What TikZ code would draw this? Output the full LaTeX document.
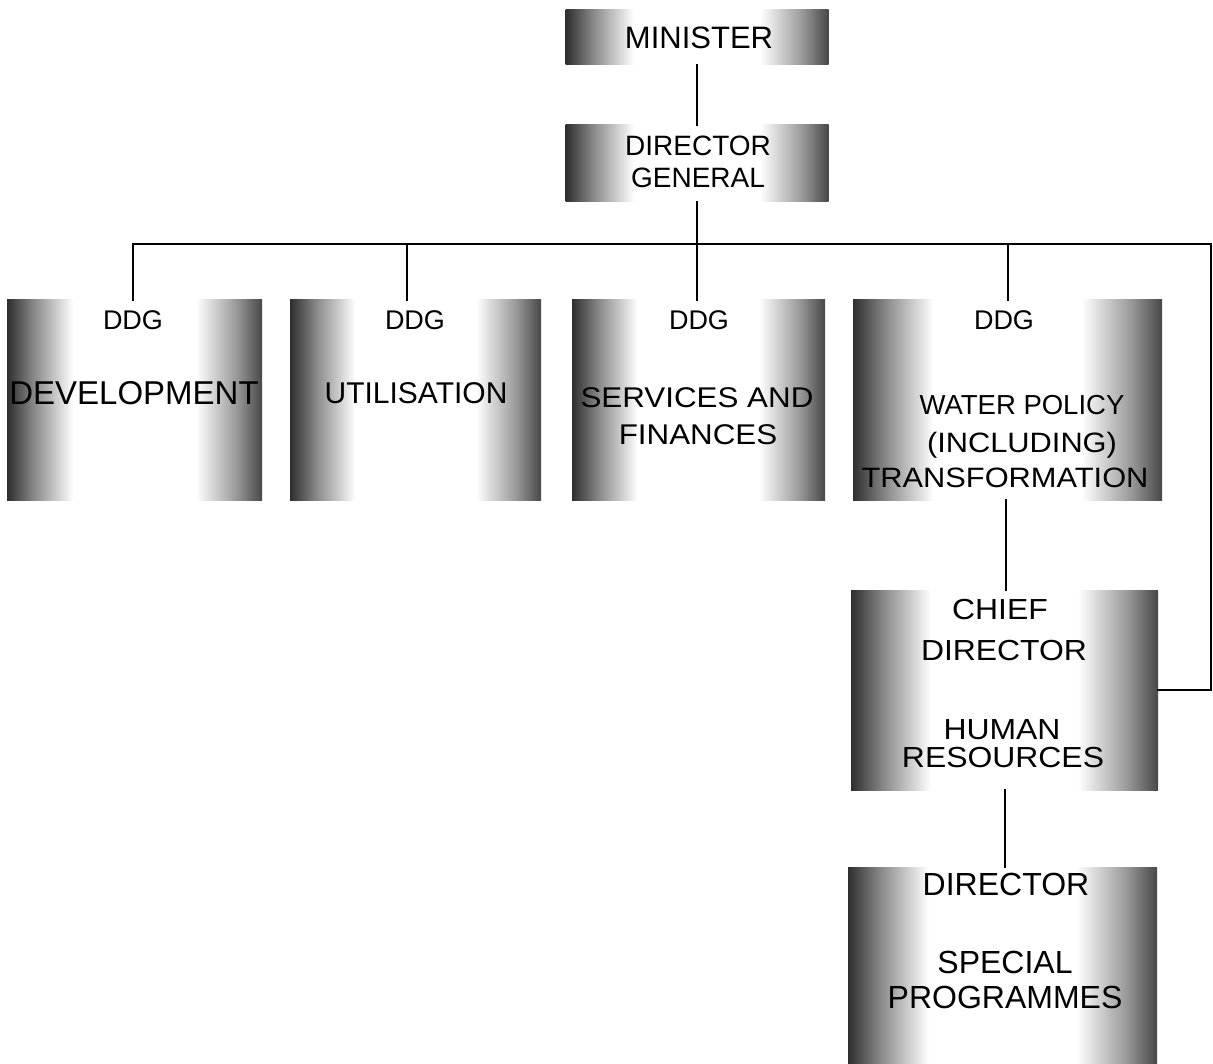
\documentclass[tikz,border=0pt]{standalone}
\usepackage{fontspec}
\setmainfont{Liberation Sans}
\newfontfamily\rf{Liberation Sans}
\newfontfamily\wf{Liberation Sans}[FakeStretch=1.1]
\pgfdeclarehorizontalshading{orgshade}{100bp}{color(0bp)=(black!82); color(25bp)=(black!82); color(30bp)=(black!48); color(38bp)=(white); color(62bp)=(white); color(70bp)=(black!40); color(75bp)=(black!72); color(100bp)=(black!72)}
\tikzset{
  orgbox/.style={rectangle, inner sep=0pt, outer sep=0pt, shade, shading=orgshade},
  lbl/.style={inner sep=0pt, outer sep=0pt, anchor=base},
  link/.style={line width=2.3pt, line cap=rect}
}
\begin{document}
\begin{tikzpicture}[x=1pt, y=-1pt]
\useasboundingbox (0,0) rectangle (1213,1064);
% boxes
\node[orgbox, minimum width=263pt, minimum height=55pt]  (min) at (697,37.5) {};
\node[orgbox, minimum width=263pt, minimum height=77pt]  (dg)  at (697,163.5) {};
\node[orgbox, minimum width=255pt, minimum height=200pt] (b1)  at (134.5,400) {};
\node[orgbox, minimum width=251pt, minimum height=200pt] (b2)  at (415.5,400) {};
\node[orgbox, minimum width=253pt, minimum height=200pt] (b3)  at (698.5,400) {};
\node[orgbox, minimum width=309pt, minimum height=200pt] (b4)  at (1007.5,400) {};
\node[orgbox, minimum width=307pt, minimum height=200pt] (cd)  at (1004.5,690) {};
\node[orgbox, minimum width=309pt, minimum height=197pt] (dir) at (1002.5,965.5) {};
% texts
\node[lbl, font=\rf\fontsize{31}{31}\selectfont] (tmin) at (699,48.6) {MINISTER};
\node[lbl, font=\rf\fontsize{28}{28}\selectfont] (tdg1) at (698,156) {DIRECTOR};
\node[lbl, font=\rf\fontsize{28}{28}\selectfont] (tdg2) at (698,187.5) {GENERAL};
\node[lbl, font=\rf\fontsize{27}{27}\selectfont] (d1) at (133,329.7) {DDG};
\node[lbl, font=\rf\fontsize{27}{27}\selectfont] (d2) at (415,329.7) {DDG};
\node[lbl, font=\rf\fontsize{27}{27}\selectfont] (d3) at (699,329.7) {DDG};
\node[lbl, font=\rf\fontsize{27}{27}\selectfont] (d4) at (1004,329.7) {DDG};
\node[lbl, font=\rf\fontsize{33}{33}\selectfont] (t1) at (134,404.3) {DEVELOPMENT};
\node[lbl, font=\rf\fontsize{30}{30}\selectfont] (t2) at (416,403.7) {UTILISATION};
\node[lbl, font=\wf\fontsize{28.5}{28.5}\selectfont] (t3a) at (697,408) {SERVICES AND};
\node[lbl, font=\wf\fontsize{28.5}{28.5}\selectfont] (t3b) at (698,445) {FINANCES};
\node[lbl, font=\rf\fontsize{27.5}{27.5}\selectfont] (t4a) at (1022,415) {WATER POLICY};
\node[lbl, font=\wf\fontsize{28}{28}\selectfont] (t4b) at (1022,452) {(INCLUDING)};
\node[lbl, font=\wf\fontsize{28}{28}\selectfont] (t4c) at (1005,487) {TRANSFORMATION};
\node[lbl, font=\wf\fontsize{29}{29}\selectfont] (c1) at (1000,619.4) {CHIEF};
\node[lbl, font=\wf\fontsize{29}{29}\selectfont] (c2) at (1004,660.4) {DIRECTOR};
\node[lbl, font=\wf\fontsize{29}{29}\selectfont] (c3) at (1002,739.4) {HUMAN};
\node[lbl, font=\wf\fontsize{29}{29}\selectfont] (c4) at (1003,767.4) {RESOURCES};
\node[lbl, font=\rf\fontsize{32}{32}\selectfont] (e1) at (1006,895.5) {DIRECTOR};
\node[lbl, font=\rf\fontsize{32}{32}\selectfont] (e2) at (1005,973.5) {SPECIAL};
\node[lbl, font=\rf\fontsize{32}{32}\selectfont] (e3) at (1005,1008.5) {PROGRAMMES};
% connector points
\coordinate (j1) at (133,244);
\coordinate (j2) at (407,244);
\coordinate (j3) at (697,244);
\coordinate (j4) at (1008,244);
\coordinate (jR) at (1211,244);
\coordinate (cR) at (1211,690);
% connectors
\draw[link] (min.south) -- (dg.north);
\draw[link] (dg.south) -- (j3);
\draw[link] (j1) -- (jR) -- (cR) -- (cd.east);
\draw[link] (j1) -- (j1 |- b1.north);
\draw[link] (j2) -- (j2 |- b2.north);
\draw[link] (j3) -- (j3 |- b3.north);
\draw[link] (j4) -- (j4 |- b4.north);
\draw[link] (b4.south -| 1006,0) -- (cd.north -| 1006,0);
\draw[link] (cd.south -| 1005,0) -- (dir.north -| 1005,0);
\end{tikzpicture}
\end{document}
